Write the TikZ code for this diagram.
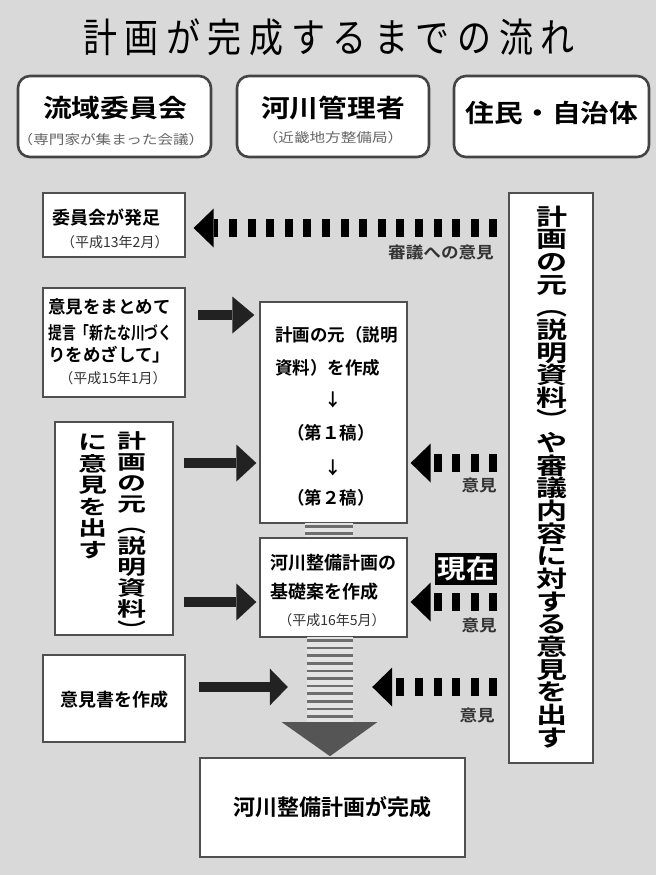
\documentclass[tikz,border=0pt]{standalone}
\usepackage{fontspec}
\usetikzlibrary{calc}
\newfontfamily\jpR{Noto Sans CJK JP}
\newfontfamily\jpB{Noto Sans CJK JP Bold}
\newfontfamily\jpT[FakeStretch=0.85,LetterSpace=19]{Noto Sans CJK JP}
\newfontfamily\jpH[FakeStretch=1.15]{Noto Sans CJK JP Bold}
\newfontfamily\jpS[FakeStretch=1.2]{Noto Sans CJK JP}
\newfontfamily\jpM[FakeStretch=1.1]{Noto Sans CJK JP Bold}
\newfontfamily\jpV[FakeStretch=1.35]{Noto Sans CJK JP Bold}
\newfontfamily\jpL[FakeStretch=1.45]{Noto Sans CJK JP Bold}
\definecolor{bg}{HTML}{D9D9D9}
\definecolor{bdr}{HTML}{505050}
\definecolor{bdrtop}{HTML}{444444}
\definecolor{subc}{HTML}{666666}
\definecolor{datec}{HTML}{333333}
\definecolor{arrc}{HTML}{222222}
\definecolor{stripebg}{HTML}{E4E4E4}
\definecolor{stripeln}{HTML}{6E6E6E}
\definecolor{headgray}{HTML}{555555}
\newcommand\mysolidarr[3]{%
  \fill[arrc] ($(#1)+(0,-5)$) rectangle ($(#2)+(-#3,5)$);
  \fill[arrc] ($(#2)+(-#3,-18.5)$) -- (#2) -- ($(#2)+(-#3,18.5)$) -- cycle;}
\newcommand\mydasharr[2]{%
  \draw[dashline] (#1) -- ($(#2)+(20,0)$);
  \fill[black] ($(#2)+(20,-19.5)$) -- (#2) -- ($(#2)+(20,19.5)$) -- cycle;}
\begin{document}
\begin{tikzpicture}[x=1pt,y=-1pt,
  box/.style={draw=bdr, line width=1.3pt, fill=white, inner sep=0pt},
  topbox/.style={draw=bdrtop, line width=2.6pt, fill=white, rounded corners=12pt, inner sep=0pt, minimum height=81pt},
  txt/.style={inner sep=0pt, text=black},
  hfont/.style={font={\jpH\fontsize{25}{27}\selectfont}},
  sfont/.style={font={\jpS\fontsize{13}{15}\selectfont}, text=subc},
  bfont/.style={font={\jpB\fontsize{17.5}{20}\selectfont}},
  dfont/.style={font={\jpR\fontsize{14}{16}\selectfont}, text=datec},
  lfont/.style={font={\jpM\fontsize{16}{18}\selectfont}, text=datec},
  dashline/.style={line width=18pt, dash pattern=on 8pt off 10.6pt, black},
]
\fill[bg] (0,0) rectangle (656,875);
\useasboundingbox (0,0) rectangle (656,875);

% title
\node[txt, anchor=west, font={\jpT\fontsize{40}{42}\selectfont}] (title) at (83,37) {計画が完成するまでの流れ};

% top boxes
\node[topbox, minimum width=193pt] (t1) at (114.5,116.5) {};
\node[topbox, minimum width=192pt] (t2) at (333,116.5) {};
\node[topbox, minimum width=195pt] (t3) at (551.5,116.5) {};
\node[txt, hfont] (t1a) at (115,108.5) {流域委員会};
\node[txt, sfont] (t1b) at (111,139.5) {（専門家が集まった会議）};
\node[txt, hfont] (t2a) at (333,108.5) {河川管理者};
\node[txt, sfont] (t2b) at (333,138) {（近畿地方整備局）};
\node[txt, hfont] (t3a) at (552,113) {住民・自治体};

% left column boxes
\node[box, minimum width=142pt, minimum height=64pt] (c1) at (114,225) {};
\node[txt, anchor=west, font={\jpB\fontsize{18}{20}\selectfont}] (c1a) at (52,218) {委員会が発足};
\node[txt, anchor=west, dfont] (c1b) at (61,242) {（平成13年2月）};

\node[box, minimum width=142pt, minimum height=109pt] (c2) at (114,342.5) {};
\node[txt, anchor=west, bfont] (c2a) at (48,307) {意見をまとめて};
\node[txt, anchor=west, bfont] (c2b) at (48,333) {\scalebox{0.79}[1]{提言「新たな川づく}};
\node[txt, anchor=west, bfont] (c2c) at (48,355) {りをめざして」};
\node[txt, dfont] (c2d) at (113,378) {（平成15年1月）};

\node[box, minimum width=118pt, minimum height=213pt] (lv) at (114,528.5) {};
\node[txt, anchor=north, align=center, font={\jpL\fontsize{20}{21}\selectfont\lineskiplimit=-50pt}] (lv1) at (132,431) {計\\画\\の\\元\\︵\\説\\明\\資\\料\\︶};
\node[txt, anchor=north, align=center, font={\jpL\fontsize{20}{21.5}\selectfont\lineskiplimit=-50pt}] (lv2) at (93,434) {に\\意\\見\\を\\出\\す};

\node[box, minimum width=142pt, minimum height=87pt] (d) at (114,698.5) {};
\node[txt, font={\jpB\fontsize{18}{20}\selectfont}] (da) at (114,700) {意見書を作成};

% centre column
\node[box, minimum width=147pt, minimum height=221pt] (m1) at (333.5,412.5) {};
\node[txt, anchor=west, bfont] (m1a) at (275,335) {計画の元（説明};
\node[txt, anchor=west, bfont] (m1b) at (275,368) {資料）を作成};
\node[txt, bfont] (m1c) at (333,400) {↓};
\node[txt, bfont] (m1d) at (331,433) {（第１稿）};
\node[txt, bfont] (m1e) at (333,468) {↓};
\node[txt, bfont] (m1f) at (331,498) {（第２稿）};

\node[inner sep=0pt, minimum width=48pt, minimum height=15pt, fill=stripebg] (sh0) at (329,530.5) {};
\foreach \yy in {526.5,533.5} \draw[stripeln, line width=2.6pt] (sh0.west |- 0,\yy) -- (sh0.east |- 0,\yy);

\node[box, minimum width=147pt, minimum height=99pt] (m2) at (333.5,587.5) {};
\node[txt, anchor=west, font={\jpB\fontsize{18}{20}\selectfont}] (m2a) at (270,563) {河川整備計画の};
\node[txt, anchor=west, font={\jpB\fontsize{18}{20}\selectfont}] (m2b) at (270,592) {基礎案を作成};
\node[txt, dfont] (m2c) at (332,620) {（平成16年5月）};

\node[inner sep=0pt, minimum width=46pt, minimum height=85pt, fill=stripebg] (sh) at (330,679.5) {};
\foreach \yy in {640.5,648.1,...,720} \draw[stripeln, line width=2.6pt] (sh.west |- 0,\yy) -- (sh.east |- 0,\yy);
\fill[headgray] ($(sh.south west)+(-25,0)$) -- ($(sh.south east)+(24,0)$) -- ($(sh.south)+(0,34)$) -- cycle;

\node[box, minimum width=265pt, minimum height=99pt] (f) at (332.5,807.5) {};
\node[txt, font={\jpB\fontsize{22}{24}\selectfont}] (fa) at (332,807) {河川整備計画が完成};

% right tall box
\node[box, minimum width=84pt, minimum height=570pt] (rbox) at (551,478) {};
\node[txt, anchor=north, align=center, font={\jpV\fontsize{23}{22.65}\selectfont\lineskiplimit=-50pt}] (rtext) at (552,205.5) {計\\画\\の\\元\\︵\\説\\明\\資\\料\\︶\\や\\審\\議\\内\\容\\に\\対\\す\\る\\意\\見\\を\\出\\す};

% "now" marker
\node[fill=black, text=white, inner sep=0pt, minimum width=62pt, minimum height=32pt, font={\jpM\fontsize{26}{28}\selectfont}] (gz) at (466,569) {現在};

% connectors
\coordinate (A1) at ($(c1.east)+(8,3)$);
\coordinate (A0) at ($(rbox.west |- A1)+(-11,0)$);
\mydasharr{A0}{A1}
\node[txt, anchor=east, lfont] (l1) at (494,252) {審議への意見};

\coordinate (B0) at ($(c2.east)+(12,-27.5)$);
\coordinate (B1) at ($(m1.west |- B0)+(-5,0)$);
\mysolidarr{B0}{B1}{22}

\coordinate (C0) at ($(lv.east)+(10,-65.5)$);
\coordinate (C1) at ($(m1.west |- C0)+(-3,0)$);
\mysolidarr{C0}{C1}{20}

\coordinate (D1) at ($(m1.east |- C0)+(3,0)$);
\coordinate (D0) at ($(rbox.west |- D1)+(-11,0)$);
\mydasharr{D0}{D1}
\node[txt, anchor=east, lfont] (l2) at (497,485) {意見};

\coordinate (E0) at ($(lv.east)+(10,73.5)$);
\coordinate (E1) at ($(m2.west |- E0)+(-3,0)$);
\mysolidarr{E0}{E1}{20}

\coordinate (F1) at ($(m2.east |- E0)+(3,0)$);
\coordinate (F0) at ($(rbox.west |- F1)+(-11,0)$);
\mydasharr{F0}{F1}
\node[txt, anchor=east, lfont] (l3) at (497,625) {意見};

\coordinate (G0) at ($(d.east)+(13,-11.5)$);
\coordinate (G1) at ($(sh.west |- G0)+(-19,0)$);
\mysolidarr{G0}{G1}{18}

\coordinate (H1) at ($(sh.east |- G0)+(19,0)$);
\coordinate (H0) at ($(rbox.west |- H1)+(-11,0)$);
\mydasharr{H0}{H1}
\node[txt, anchor=east, lfont] (l4) at (495,715) {意見};
\end{tikzpicture}
\end{document}
